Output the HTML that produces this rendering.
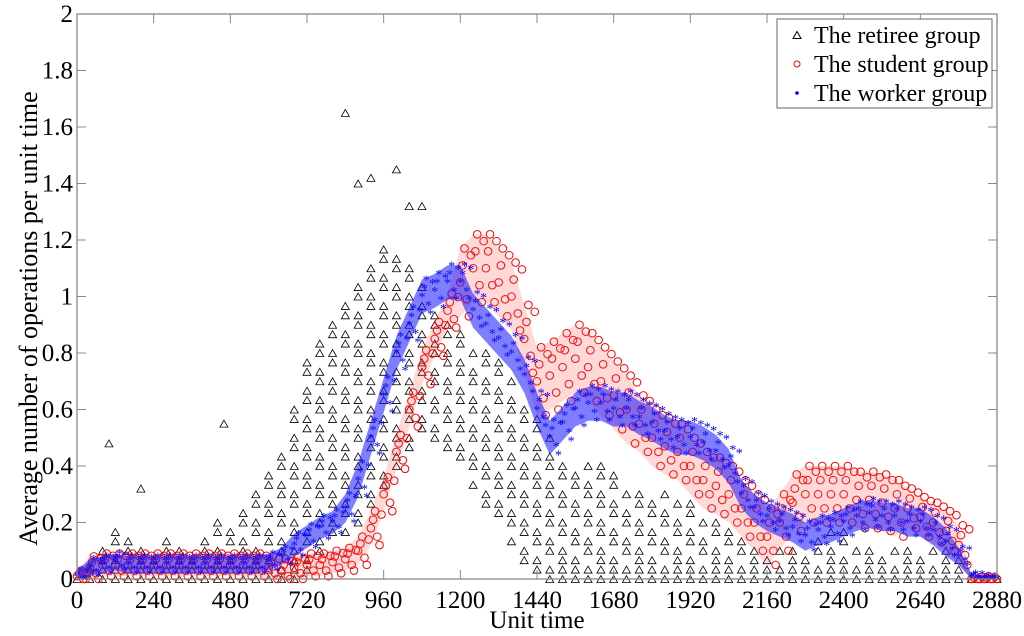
<!DOCTYPE html>
<html><head><meta charset="utf-8"><style>
html,body{margin:0;padding:0;background:#fff;}
svg{display:block;font-family:"Liberation Serif",serif;}
</style></head><body>
<svg id="chart" width="1024" height="636" viewBox="0 0 1024 636"></svg>
<script>
// ---- data (step 40 over unit time 0..2880) ----
const timeStep = 40;
const retireeLo = [0,0,0,0,0,0,0,0,0,0,0,0,0,0,0,0,0,0,0.03,0.1,0.13,0.17,0.2,0.23,0.3,0.37,0.43,0.5,0.5,0.47,0.4,0.33,0.27,0.2,0.13,0.07,0.03,0,0,0,0,0,0,0,0,0,0,0,0,0,0,0,0,0,0,0,0,0,0,0,0,0,0,0,0,0,0,0,0,0,0,0,0];
const retireeHi = [0.03,0.07,0.14,0.2,0.17,0.13,0.13,0.17,0.13,0.13,0.17,0.2,0.23,0.27,0.3,0.37,0.47,0.6,0.8,0.87,0.93,1.0,1.07,1.13,1.2,1.17,1.1,1.05,0.97,0.9,0.87,0.83,0.8,0.77,0.73,0.63,0.57,0.5,0.43,0.4,0.43,0.4,0.37,0.33,0.33,0.3,0.3,0.27,0.27,0.23,0.23,0.2,0.17,0.13,0.1,0.1,0.13,0.13,0.17,0.17,0.17,0.13,0.13,0.13,0.13,0.13,0.13,0.13,0.1,0.07,0.03,0,0];
const retireeOutT = [100,200,460,840,1000,880,920,1080,1040];
const retireeOutV = [0.48,0.32,0.55,1.65,1.45,1.4,1.42,1.32,1.32];
const studentMid = [0.01,0.04,0.05,0.05,0.05,0.05,0.05,0.05,0.05,0.05,0.05,0.05,0.05,0.05,0.05,0.04,0.03,0.04,0.05,0.05,0.06,0.07,0.1,0.18,0.3,0.45,0.6,0.75,0.85,0.95,1.05,1.1,1.1,1.05,1.0,0.85,0.7,0.72,0.75,0.78,0.75,0.7,0.65,0.6,0.55,0.5,0.47,0.45,0.4,0.35,0.33,0.3,0.25,0.2,0.15,0.2,0.27,0.3,0.3,0.3,0.3,0.28,0.28,0.27,0.25,0.25,0.22,0.2,0.17,0.12,0.0,0,0];
const studentSpread = [0.02,0.04,0.04,0.04,0.04,0.04,0.04,0.04,0.04,0.04,0.04,0.04,0.04,0.04,0.04,0.04,0.04,0.04,0.04,0.04,0.04,0.04,0.05,0.06,0.06,0.06,0.06,0.06,0.06,0.06,0.12,0.12,0.12,0.12,0.12,0.12,0.12,0.12,0.12,0.12,0.12,0.12,0.12,0.12,0.1,0.1,0.1,0.1,0.1,0.1,0.1,0.1,0.1,0.1,0.1,0.1,0.1,0.1,0.1,0.1,0.1,0.1,0.1,0.1,0.1,0.07,0.07,0.07,0.07,0.07,0.01,0.01,0.01];
const workerMid = [0.01,0.04,0.05,0.06,0.05,0.05,0.05,0.05,0.05,0.05,0.05,0.05,0.05,0.05,0.05,0.06,0.08,0.12,0.15,0.18,0.2,0.25,0.35,0.5,0.65,0.8,0.9,1.0,1.02,1.05,1.05,0.95,0.9,0.85,0.8,0.72,0.6,0.5,0.55,0.6,0.62,0.62,0.6,0.6,0.57,0.55,0.52,0.5,0.5,0.48,0.45,0.4,0.3,0.25,0.22,0.2,0.18,0.15,0.17,0.18,0.2,0.22,0.23,0.22,0.22,0.2,0.2,0.17,0.13,0.08,0.01,0,0];
const workerSpread = [0.02,0.03,0.03,0.03,0.03,0.03,0.03,0.03,0.03,0.03,0.03,0.03,0.03,0.03,0.03,0.03,0.03,0.04,0.04,0.04,0.04,0.05,0.06,0.06,0.06,0.06,0.06,0.06,0.06,0.06,0.06,0.06,0.06,0.06,0.06,0.06,0.06,0.06,0.06,0.06,0.06,0.06,0.06,0.06,0.06,0.06,0.06,0.06,0.06,0.06,0.06,0.06,0.05,0.05,0.05,0.05,0.05,0.05,0.05,0.05,0.05,0.05,0.05,0.05,0.05,0.05,0.05,0.05,0.05,0.03,0.01,0.01,0.01];
const xTicks = [0,240,480,720,960,1200,1440,1680,1920,2160,2400,2640,2880];
const yTicks = [0,0.2,0.4,0.6,0.8,1,1.2,1.4,1.6,1.8,2];
const yTickLabels = ["0","0.2","0.4","0.6","0.8","1","1.2","1.4","1.6","1.8","2"];
const levelStep = 1/30;

// ---- layout ----
const L=77,R=997,T=14,B=579;
const xS=t=>L+t*(R-L)/2880;
const yS=v=>B-v*(B-T)/2;
const NS="http://www.w3.org/2000/svg";
const svg=document.getElementById('chart');
function mk(tag,attrs,parent){const e=document.createElementNS(NS,tag);for(const k in attrs)e.setAttribute(k,attrs[k]);(parent||svg).appendChild(e);return e;}

const gR=mk('g',{});


function tri(cx,cy,p){const e=mk('path',{d:`M${cx-4},${cy+3.5}L${cx},${cy-3.5}L${cx+4},${cy+3.5}Z`,fill:'none',stroke:'#000','stroke-width':0.8},p);return e;}
retireeHi.forEach((hi,i)=>{
  const t=i*timeStep;const lo=retireeLo[i];
  for(let k=Math.round(lo/levelStep);k*levelStep<=hi+1e-9;k++){
    if(k>1 && (k+i)%3===0) continue;
    const e=tri(xS(t),yS(k*levelStep),gR);
    
    
  }
});
retireeOutT.forEach((t,i)=>{const e=tri(xS(t),yS(retireeOutV[i]),gR);
  
  });

function band(mid,spr,fill,name){
  let up=[],dn=[];
  mid.forEach((m,i)=>{up.push(xS(i*timeStep)+','+yS(m+spr[i]));dn.unshift(xS(i*timeStep)+','+yS(Math.max(0,m-spr[i])));});
  const p=mk('polygon',{points:up.concat(dn).join(' '),fill:fill});
  
  
}
// student
const gS=mk('g',{});


band(studentMid,studentSpread,'rgba(255,60,60,0.2)','student-band');
const offs=[[0,0],[13,1],[27,-1],[7,0.5],[20,-0.5],[33,0.8]];
studentMid.forEach((m,i)=>{offs.forEach(o=>{
  const t=i*timeStep+o[0];if(t>2880)return;
  const c=mk('circle',{cx:xS(t),cy:yS(Math.max(0,m+o[1]*studentSpread[i])),r:3.8,fill:'none',stroke:'#f00','stroke-width':1},gS);
  
  
});});
// worker
const gW=mk('g',{});


band(workerMid,workerSpread,'rgba(20,20,255,0.55)','worker-band');
workerMid.forEach((m,i)=>{offs.forEach(o=>{
  const t=i*timeStep+o[0];if(t>2880)return;
  const s=mk('text',{x:xS(t),y:yS(Math.max(0,m+o[1]*workerSpread[i]))+5,'text-anchor':'middle','font-size':14,fill:'#00f'},gW);
  s.textContent='*';
  
  
});});

// axes
const ax=mk('rect',{x:L,y:T,width:R-L,height:B-T,fill:'none',stroke:'#888','stroke-width':1.3});


xTicks.forEach(t=>{
  mk('line',{x1:xS(t),x2:xS(t),y1:B,y2:B-9,stroke:'#888'});
  mk('line',{x1:xS(t),x2:xS(t),y1:T,y2:T+9,stroke:'#888'});
  const tx=mk('text',{x:xS(t),y:B+29,'text-anchor':'middle','font-size':25,fill:'#000'});
  tx.textContent=t;
  
  
});
yTicks.forEach((v,i)=>{
  mk('line',{x1:L,x2:L+9,y1:yS(v),y2:yS(v),stroke:'#888'});
  mk('line',{x1:R,x2:R-9,y1:yS(v),y2:yS(v),stroke:'#888'});
  const tx=mk('text',{x:L-4,y:yS(v)+8,'text-anchor':'end','font-size':25,fill:'#000'});
  tx.textContent=yTickLabels[i];
  
  
});
const xt=mk('text',{x:(L+R)/2,y:628,'text-anchor':'middle','font-size':25,fill:'#000'});
xt.textContent='Unit time';


const yt=mk('text',{x:0,y:0,transform:`translate(37,${(T+B)/2+22}) rotate(-90)`,'text-anchor':'middle','font-size':26,fill:'#000'});
yt.textContent='Average number of operations per unit time';



// legend
const lg=mk('g',{});


mk('rect',{x:777,y:19,width:215,height:89,fill:'#fff',stroke:'#666','stroke-width':1},lg);
const ents=[['The retiree group','tri'],['The student group','circ'],['The worker group','star']];
ents.forEach((e,i)=>{
  const y=35+i*29;
  const g=mk('g',{},lg);
  
  
  if(e[1]==='tri') tri(797,y,g).setAttribute('stroke-width',1);
  else if(e[1]==='circ') mk('circle',{cx:797,cy:y,r:3,fill:'none',stroke:'#f00'},g);
  else mk('circle',{cx:797,cy:y,r:1.8,fill:'#00f'},g);
  const t=mk('text',{x:814,y:y+8,'font-size':24,fill:'#000'},g);
  t.textContent=e[0];
});
</script>
</body></html>
